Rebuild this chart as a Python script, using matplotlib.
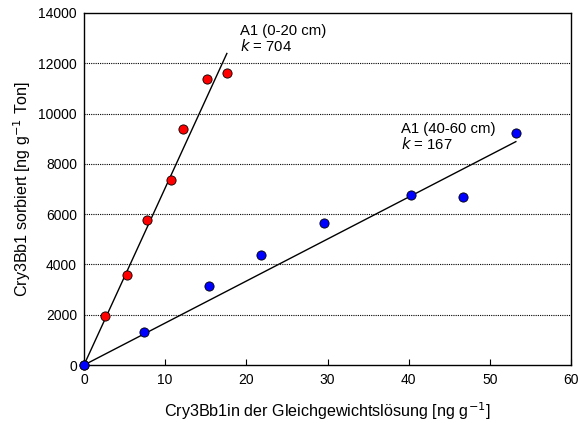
import matplotlib
matplotlib.use("Agg")
import matplotlib.pyplot as plt
import numpy as np

plt.rcParams['font.family'] = ['Liberation Sans', 'DejaVu Sans']

x_top = [0, 2.55, 5.26, 7.76, 10.7, 12.2, 15.2, 17.6]
y_top = [0, 1960, 3570, 5780, 7360, 9400, 11360, 11620]
x_deep = [0, 7.39, 15.36, 21.8, 29.56, 40.3, 46.7, 53.2]
y_deep = [0, 1310, 3140, 4360, 5640, 6770, 6670, 9220]
k_top = 704
k_deep = 167
x_ticks = [0, 10, 20, 30, 40, 50, 60]
y_ticks = [0, 2000, 4000, 6000, 8000, 10000, 12000, 14000]

fig = plt.figure(figsize=(5.78, 4.23), dpi=100)
ax = fig.add_axes([0.1453, 0.137, 0.8427, 0.8323])

for y in y_ticks[1:-1]:
    ax.axhline(y, color='black', lw=0.8, ls=(0, (1, 1)), zorder=1)

xf = np.array([0, max(x_top)])
ax.plot(xf, k_top * xf, color='black', lw=1, zorder=2)
xf2 = np.array([0, max(x_deep)])
ax.plot(xf2, k_deep * xf2, color='black', lw=1, zorder=2)

ax.scatter(x_top, y_top, s=44, c='#ff0000', edgecolors='black', linewidths=0.6, zorder=3, clip_on=False)
ax.scatter(x_deep, y_deep, s=44, c='#0000ff', edgecolors='black', linewidths=0.6, zorder=4, clip_on=False)

ax.set_xlim(0, 60)
ax.set_ylim(0, 14000)
ax.set_xticks(x_ticks)
ax.set_yticks(y_ticks)
ax.tick_params(direction='in', length=4, labelsize=10, width=0.8)
ax.tick_params(axis='y', length=0, pad=5)
ax.tick_params(axis='x', pad=6)
for s in ax.spines.values():
    s.set_linewidth(1)

ax.text(19.2, 12950, 'A1 (0-20 cm)\n$\\mathit{k}$ = 704', fontsize=10.7, va='center', ha='left', linespacing=1.0)
ax.text(39.1, 9050, 'A1 (40-60 cm)\n$\\mathit{k}$ = 167', fontsize=10.7, va='center', ha='left', linespacing=1.0)

ax.set_xlabel('Cry3Bb1in der Gleichgewichtslösung [ng g$^{-1}$]', fontsize=11.6, labelpad=9)
ax.set_ylabel('Cry3Bb1 sorbiert [ng g$^{-1}$ Ton]', fontsize=11.6, labelpad=4)

fig.savefig('out.png', dpi=100)
